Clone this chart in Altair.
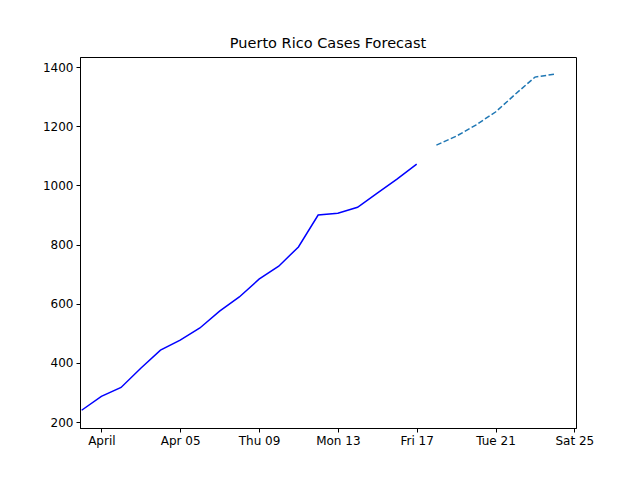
import altair as alt
import pandas as pd

actual_dates = pd.date_range("2020-03-31", "2020-04-17").strftime("%Y-%m-%d").tolist()
actual_cases = [240, 287, 317, 382, 443, 477, 518, 575, 623, 683, 727, 792,
                900, 906, 926, 974, 1021, 1072]

forecast_dates = pd.date_range("2020-04-18", "2020-04-24").strftime("%Y-%m-%d").tolist()
forecast_cases = [1136, 1166, 1204, 1248, 1308, 1366, 1376]

tick_dates = ["2020-04-01", "2020-04-05", "2020-04-09", "2020-04-13",
              "2020-04-17", "2020-04-21", "2020-04-25"]


def ms(s):
    return int(pd.Timestamp(s, tz="UTC").value // 1_000_000)


actual = pd.DataFrame({"date": [ms(d) for d in actual_dates], "cases": actual_cases})
forecast = pd.DataFrame({"date": [ms(d) for d in forecast_dates], "cases": forecast_cases})

x = alt.X(
    "date:T",
    title=None,
    scale=alt.Scale(type="utc", domain=[ms("2020-03-30 22:00"), ms("2020-04-25 02:00")]),
    axis=alt.Axis(values=[ms(d) for d in tick_dates],
                  format="%Y-%m-%d", formatType="utc", grid=False),
)
y = alt.Y("cases:Q", title=None,
          scale=alt.Scale(domain=[180, 1434], nice=False, zero=False),
          axis=alt.Axis(values=[200, 400, 600, 800, 1000, 1200, 1400], format="d", grid=False))

solid = alt.Chart(actual).mark_line(color="#0000ff", strokeWidth=1.5).encode(x=x, y=y)
dashed = alt.Chart(forecast).mark_line(color="#1f77b4", strokeWidth=1.5,
                                       strokeDash=[5.5, 2.4]).encode(x=x, y=y)

chart = alt.layer(solid, dashed).properties(
    width=496, height=371,
    title=alt.TitleParams("Puerto Rico Cases Forecast", fontSize=14.5, fontWeight="normal",
                          font="DejaVu Sans", color="black", offset=6),
    autosize=alt.AutoSizeParams(type="none"),
    padding={"left": 72, "top": 49, "right": 48, "bottom": 44},
).configure_axis(
    domainColor="black", tickColor="black", labelColor="black",
    labelFont="DejaVu Sans", labelFontSize=12, tickSize=4, labelPadding=3,
).configure_view(stroke="black", strokeWidth=1)

chart.save("out.html", embed_options={"renderer": "svg", "actions": False})
